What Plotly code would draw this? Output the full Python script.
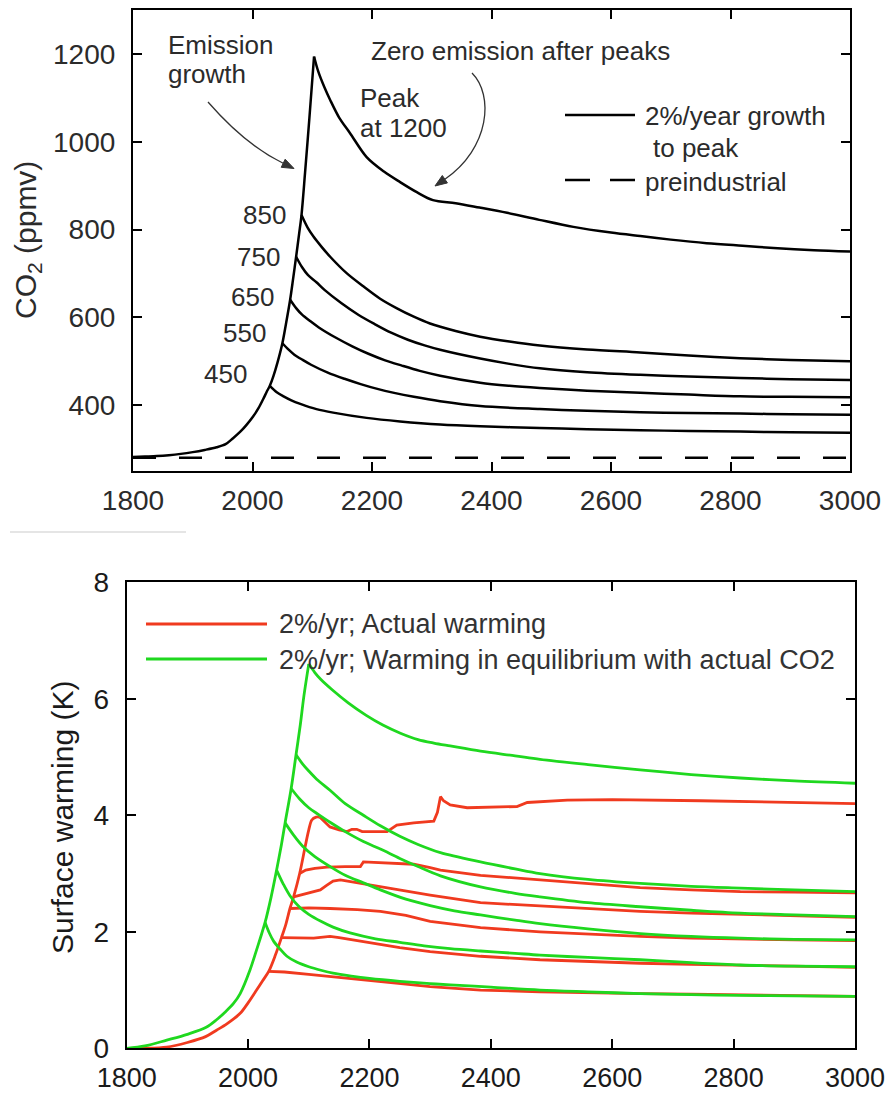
import math
import plotly.graph_objects as go

# ---------------- DATA ----------------
# Top panel: CO2 (ppmv)
co2_growth_year = [1800, 1820, 1840, 1860, 1880, 1900, 1920, 1940, 1955, 1967, 1980, 1990, 2001, 2010,
                   2018, 2024, 2029, 2035, 2042, 2050, 2056, 2063, 2068, 2073, 2078, 2082, 2088, 2095, 2103]
co2_growth = [282, 283, 284, 286, 289, 293, 298, 304, 311, 324, 340, 355, 374, 393,
              414, 431, 444, 466, 498, 541, 585, 640, 688, 738, 790, 833, 930, 1050, 1194]

co2_1200_year = [2103, 2110, 2120, 2130, 2145, 2163, 2191, 2220, 2247, 2275, 2302, 2340, 2380, 2426,
                 2480, 2537, 2600, 2649, 2700, 2760, 2820, 2872, 2940, 3000]
co2_1200 = [1194, 1160, 1125, 1095, 1055, 1020, 965, 932, 908, 885, 867, 860, 850, 838,
            822, 806, 793, 785, 777, 769, 763, 758, 753, 750]

co2_850_year = [2082, 2092, 2102, 2116, 2130, 2158, 2186, 2213, 2241, 2269, 2297, 2340, 2381, 2430,
                2481, 2560, 2649, 2730, 2816, 2900, 3000]
co2_850 = [833, 805, 784, 760, 738, 700, 670, 643, 621, 602, 586, 569, 556, 545,
           536, 527, 520, 513, 507, 503, 500]

co2_750_year = [2073, 2083, 2093, 2107, 2121, 2149, 2177, 2204, 2232, 2260, 2288, 2314, 2381, 2430,
                2481, 2560, 2649, 2730, 2816, 2900, 3000]
co2_750 = [738, 714, 696, 680, 662, 632, 606, 585, 565, 549, 536, 526, 506, 494,
           484, 475, 469, 465, 462, 459, 457]

co2_650_year = [2063, 2073, 2083, 2097, 2111, 2139, 2167, 2194, 2222, 2250, 2280, 2314, 2381, 2430,
                2481, 2560, 2649, 2730, 2816, 2900, 3000]
co2_650 = [640, 621, 606, 591, 577, 554, 534, 517, 502, 490, 478, 467, 451, 444,
           439, 433, 428, 424, 420, 419, 418]

co2_550_year = [2050, 2060, 2070, 2084, 2098, 2126, 2154, 2181, 2209, 2237, 2270, 2314, 2381, 2481,
                2560, 2649, 2730, 2816, 2900, 3000]
co2_550 = [541, 527, 515, 503, 492, 474, 460, 448, 437, 428, 419, 409, 398, 391,
           387, 384, 382, 381, 379, 378]

co2_450_year = [2029, 2040, 2052, 2065, 2080, 2107, 2135, 2191, 2247, 2314, 2381, 2481, 2560, 2649,
                2730, 2816, 2900, 3000]
co2_450 = [444, 430, 420, 411, 403, 391, 383, 371, 363, 356, 352, 348, 345, 343,
           341, 340, 338, 337]

preind_year = [1800, 3000]
preind_co2 = [280, 280]

peak_labels = ["850", "750", "650", "550", "450"]

# Bottom panel: surface warming (K)
eq_growth_year = [1800, 1830, 1866, 1900, 1931, 1948, 1962, 1976, 1987, 2003, 2014, 2021, 2028, 2038,
                  2047, 2055, 2061, 2071, 2079, 2086, 2092, 2100]
eq_growth = [0.0, 0.04, 0.14, 0.24, 0.36, 0.49, 0.62, 0.77, 0.94, 1.34, 1.69, 1.92, 2.16, 2.60,
             3.06, 3.50, 3.87, 4.46, 5.04, 5.55, 6.05, 6.60]

eq_1200_year = [2100, 2110, 2120, 2139, 2165, 2194, 2222, 2251, 2280, 2306, 2333, 2383, 2440, 2481,
                2560, 2646, 2730, 2811, 2900, 3000]
eq_1200 = [6.60, 6.45, 6.33, 6.15, 5.93, 5.72, 5.55, 5.41, 5.30, 5.24, 5.19, 5.10, 5.02, 4.96,
           4.87, 4.78, 4.70, 4.64, 4.59, 4.55]

eq_850_year = [2079, 2090, 2100, 2113, 2135, 2160, 2190, 2218, 2250, 2280, 2317, 2383, 2440, 2481,
               2560, 2646, 2730, 2811, 2900, 3000]
eq_850 = [5.04, 4.88, 4.76, 4.62, 4.43, 4.20, 4.00, 3.82, 3.64, 3.50, 3.36, 3.20, 3.08, 3.00,
          2.90, 2.83, 2.78, 2.75, 2.72, 2.69]

eq_750_year = [2071, 2085, 2100, 2115, 2135, 2160, 2190, 2218, 2250, 2280, 2317, 2383, 2440, 2481,
               2560, 2646, 2730, 2811, 2900, 3000]
eq_750 = [4.46, 4.28, 4.13, 4.02, 3.88, 3.72, 3.55, 3.42, 3.26, 3.12, 2.96, 2.77, 2.66, 2.60,
          2.50, 2.43, 2.37, 2.32, 2.29, 2.26]

eq_650_year = [2061, 2075, 2090, 2110, 2135, 2160, 2190, 2218, 2260, 2300, 2340, 2383, 2440, 2481,
               2560, 2646, 2730, 2811, 2900, 3000]
eq_650 = [3.87, 3.66, 3.47, 3.29, 3.12, 2.97, 2.84, 2.72, 2.56, 2.45, 2.36, 2.29, 2.20, 2.14,
          2.05, 1.97, 1.92, 1.89, 1.87, 1.86]

eq_550_year = [2047, 2058, 2069, 2085, 2100, 2120, 2140, 2168, 2210, 2250, 2290, 2333, 2383, 2440,
               2481, 2560, 2646, 2730, 2811, 2900, 3000]
eq_550 = [3.06, 2.82, 2.62, 2.42, 2.30, 2.18, 2.08, 1.98, 1.88, 1.82, 1.76, 1.71, 1.67, 1.63,
          1.60, 1.56, 1.52, 1.47, 1.43, 1.41, 1.40]

eq_450_year = [2028, 2035, 2042, 2053, 2064, 2080, 2100, 2120, 2140, 2170, 2200, 2250, 2300, 2333,
               2400, 2481, 2560, 2646, 2730, 2811, 2900, 3000]
eq_450 = [2.16, 1.98, 1.84, 1.70, 1.58, 1.48, 1.40, 1.34, 1.29, 1.24, 1.20, 1.15, 1.11, 1.09,
          1.05, 1.00, 0.97, 0.94, 0.92, 0.91, 0.90, 0.89]

act_growth_year = [1800, 1830, 1866, 1900, 1930, 1948, 1965, 1987, 2000, 2014, 2024, 2034, 2045, 2055,
                   2062, 2069, 2075, 2085, 2094, 2100, 2105, 2112, 2118]
act_growth = [0.0, 0.0, 0.02, 0.10, 0.20, 0.31, 0.42, 0.60, 0.78, 1.00, 1.16, 1.32, 1.60, 1.90,
              2.12, 2.40, 2.60, 3.00, 3.46, 3.75, 3.92, 3.97, 3.97]

act_1200_year = [2118, 2125, 2135, 2150, 2163, 2171, 2179, 2188, 2200, 2229, 2245, 2273, 2306, 2312,
                 2317, 2322, 2333, 2361, 2443, 2460, 2526, 2600, 2746, 2850, 3000]
act_1200 = [3.97, 3.90, 3.80, 3.75, 3.72, 3.76, 3.76, 3.72, 3.72, 3.72, 3.83, 3.87, 3.90, 4.05,
            4.32, 4.25, 4.18, 4.13, 4.15, 4.22, 4.26, 4.27, 4.25, 4.23, 4.20]

act_850_year = [2085, 2095, 2110, 2130, 2160, 2185, 2190, 2218, 2273, 2300, 2317, 2383, 2481, 2560,
                2646, 2730, 2811, 2900, 3000]
act_850 = [3.00, 3.06, 3.09, 3.11, 3.12, 3.12, 3.20, 3.19, 3.16, 3.10, 3.06, 2.97, 2.89, 2.82,
           2.76, 2.72, 2.69, 2.68, 2.67]

act_750_year = [2075, 2096, 2119, 2130, 2140, 2152, 2185, 2218, 2260, 2300, 2383, 2481, 2560, 2646,
                2730, 2811, 2900, 3000]
act_750 = [2.60, 2.66, 2.72, 2.80, 2.87, 2.89, 2.83, 2.77, 2.70, 2.63, 2.50, 2.44, 2.39, 2.35,
           2.32, 2.30, 2.27, 2.25]

act_650_year = [2069, 2100, 2135, 2180, 2218, 2260, 2300, 2383, 2481, 2560, 2646, 2730, 2811, 2900, 3000]
act_650 = [2.40, 2.41, 2.40, 2.38, 2.35, 2.28, 2.18, 2.07, 2.00, 1.96, 1.92, 1.89, 1.87, 1.86, 1.85]

act_550_year = [2055, 2080, 2108, 2135, 2150, 2190, 2250, 2300, 2383, 2481, 2560, 2646, 2730, 2811, 2900, 3000]
act_550 = [1.90, 1.90, 1.89, 1.92, 1.90, 1.83, 1.73, 1.66, 1.58, 1.52, 1.49, 1.46, 1.44, 1.43, 1.41, 1.39]

act_450_year = [2034, 2060, 2100, 2135, 2180, 2218, 2260, 2300, 2383, 2481, 2560, 2646, 2730, 2811, 2900, 3000]
act_450 = [1.32, 1.31, 1.27, 1.23, 1.18, 1.14, 1.10, 1.06, 1.00, 0.97, 0.95, 0.94, 0.93, 0.92, 0.90, 0.89]

x_ticks = [1800, 2000, 2200, 2400, 2600, 2800, 3000]
co2_ticks = [400, 600, 800, 1000, 1200]
warm_ticks = [0, 2, 4, 6, 8]

# ---------------- STYLE ----------------
W, H = 889, 1097
FONT = "Liberation Sans, Arial, Helvetica, sans-serif"
TXT = "#2b2b2b"
RED = "#f03a1f"
GREEN = "#1fd81f"


def fx(p):
    return p / W


def fy(p):
    return 1 - p / H


fig = go.Figure()


def add(x, y, xa, ya, color, width, dash=None, smooth=True):
    line = dict(color=color, width=width, dash=dash)
    if smooth:
        line.update(shape="spline", smoothing=0.9)
    fig.add_trace(go.Scatter(x=x, y=y, mode="lines", xaxis=xa, yaxis=ya, line=line,
                             showlegend=False, hoverinfo="skip"))


# top panel
add(preind_year, preind_co2, "x", "y", "black", 2.5, "23px,23px", smooth=False)
add(co2_growth_year, co2_growth, "x", "y", "black", 2.5)
for yy, vv in [(co2_1200_year, co2_1200), (co2_850_year, co2_850), (co2_750_year, co2_750),
               (co2_650_year, co2_650), (co2_550_year, co2_550), (co2_450_year, co2_450)]:
    add(yy, vv, "x", "y", "black", 2.5)

# bottom panel (red under green)
add(act_growth_year, act_growth, "x2", "y2", RED, 2.8)
add(act_1200_year, act_1200, "x2", "y2", RED, 2.8, smooth=False)
for yy, vv in [(act_850_year, act_850), (act_750_year, act_750), (act_650_year, act_650),
               (act_550_year, act_550), (act_450_year, act_450)]:
    add(yy, vv, "x2", "y2", RED, 2.8, smooth=False)
add(eq_growth_year, eq_growth, "x2", "y2", GREEN, 2.8)
for yy, vv in [(eq_1200_year, eq_1200), (eq_850_year, eq_850), (eq_750_year, eq_750),
               (eq_650_year, eq_650), (eq_550_year, eq_550), (eq_450_year, eq_450)]:
    add(yy, vv, "x2", "y2", GREEN, 2.8)

axis_common = dict(showline=True, linecolor="black", linewidth=2.2, mirror="ticks",
                   ticks="inside", ticklen=9, tickwidth=2, tickcolor="black",
                   showgrid=False, zeroline=False, automargin=False)

fig.update_layout(
    width=W, height=H, margin=dict(l=0, r=0, t=0, b=0),
    paper_bgcolor="white", plot_bgcolor="white", template="none",
    xaxis=dict(domain=[fx(133), fx(850)], range=[1800, 3000], tickvals=x_ticks,
               anchor="y", ticklabelstandoff=3,
               tickfont=dict(family=FONT, size=28, color=TXT), **axis_common),
    yaxis=dict(domain=[fy(471), fy(10)], range=[250, 1300], tickvals=co2_ticks,
               anchor="x", ticklabelstandoff=10,
               tickfont=dict(family=FONT, size=28, color=TXT), **axis_common),
    xaxis2=dict(domain=[fx(126.7), fx(855)], range=[1800, 3000], tickvals=x_ticks,
                anchor="y2", ticklabelstandoff=4,
                tickfont=dict(family=FONT, size=27, color="#1a1a1a"), **axis_common),
    yaxis2=dict(domain=[fy(1048.3), fy(582.3)], range=[0, 8], tickvals=warm_ticks,
                anchor="x2", ticklabelstandoff=10,
                tickfont=dict(family=FONT, size=28, color="#1a1a1a"), **axis_common),
)

shapes = []
annotations = []


def text(t, x, y, anchor="left", size=26, color=TXT, angle=0):
    annotations.append(dict(text=t, x=fx(x), y=fy(y), xref="paper", yref="paper",
                            xanchor=anchor, yanchor="middle", showarrow=False,
                            textangle=angle, font=dict(family=FONT, size=size, color=color)))


def P(x, y):
    return f"{fx(x):.5f},{fy(y):.5f}"


def arrow(start, ctrl, tip, cubic=False):
    # curved arrow shaft (pixel geometry) + filled triangular head
    last = ctrl[-1]
    dx, dy = tip[0] - last[0], tip[1] - last[1]
    n = math.hypot(dx, dy)
    dx, dy = dx / n, dy / n
    L, hw = 12, 4.5
    bx, by = tip[0] - L * dx, tip[1] - L * dy
    p1 = (bx - hw * dy, by + hw * dx)
    p2 = (bx + hw * dy, by - hw * dx)
    if cubic:
        d = f"M {P(*start)} C {P(*ctrl[0])} {P(*ctrl[1])} {P(bx, by)}"
    else:
        d = f"M {P(*start)} Q {P(*ctrl[0])} {P(bx, by)}"
    shapes.append(dict(type="path", path=d, xref="paper", yref="paper",
                       line=dict(color="#333333", width=1.3)))
    shapes.append(dict(type="path", path=f"M {P(*tip)} L {P(*p1)} L {P(*p2)} Z",
                       xref="paper", yref="paper", fillcolor="#333333",
                       line=dict(color="#333333", width=1)))


# axis titles
text("CO<sub>2</sub> (ppmv)", 28, 240, anchor="center", size=30, angle=-90)
text("Surface warming (K)", 62, 818, anchor="center", size=30, color="#1a1a1a", angle=-90)

# top annotations
text("Emission", 166, 45)
text("growth", 166, 74)
text("Zero emission after peaks", 369, 51)
text("Peak", 358, 98)
text("at 1200", 358, 128)
for lab, (xr, yc) in zip(peak_labels, [(288, 215), (282, 257), (276, 297), (268, 333), (249, 374)]):
    text(lab, xr, yc, anchor="right")

arrow((208, 102), [(245.5, 145)], (294, 168.5))
arrow((472, 73), [(494, 95), (490, 148)], (435, 186), cubic=True)

# top legend
shapes.append(dict(type="line", xref="paper", yref="paper", x0=fx(565), x1=fx(635), y0=fy(115), y1=fy(115),
                   line=dict(color="black", width=2.5)))
shapes.append(dict(type="line", xref="paper", yref="paper", x0=fx(565), x1=fx(635), y0=fy(180), y1=fy(180),
                   line=dict(color="black", width=2.5, dash="25px,20px")))
text("2%/year growth", 643, 116)
text("to peak", 651, 148)
text("preindustrial", 643, 182)

# bottom legend
shapes.append(dict(type="line", xref="paper", yref="paper", x0=fx(146), x1=fx(267), y0=fy(624), y1=fy(624),
                   line=dict(color=RED, width=3)))
shapes.append(dict(type="line", xref="paper", yref="paper", x0=fx(146), x1=fx(267), y0=fy(659), y1=fy(659),
                   line=dict(color=GREEN, width=3)))
text("2%/yr; Actual warming", 277, 624, size=27, color="#333333")
text("2%/yr; Warming in equilibrium with actual CO2", 277, 660, size=27, color="#333333")

# thin separator line under the top panel
shapes.append(dict(type="line", xref="paper", yref="paper", x0=fx(10), x1=fx(186), y0=fy(532), y1=fy(532),
                   line=dict(color="#dddddd", width=1.5)))

fig.update_layout(shapes=shapes, annotations=annotations)
fig.write_html("out.html")
